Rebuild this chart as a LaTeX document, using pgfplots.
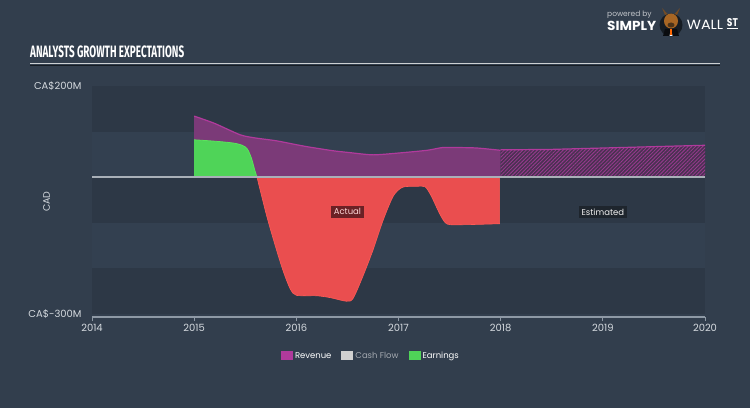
\documentclass[border=0pt]{standalone}
\usepackage{fontspec}
\setmainfont{Poppins}
\newfontfamily\titlefont{Fira Sans}
\usepackage{graphicx}
\usepackage{pgfplots}
\pgfplotsset{compat=1.18}
\usetikzlibrary{patterns.meta}
\definecolor{bg}{HTML}{323E4D}
\definecolor{bandlight}{HTML}{334050}
\definecolor{banddark}{HTML}{2D3846}
\definecolor{revfill}{HTML}{7B3A78}
\definecolor{revline}{HTML}{B03A9C}
\definecolor{revhatchbg}{HTML}{4A3152}
\definecolor{revhatch}{HTML}{9A3A90}
\definecolor{earnpos}{HTML}{4FD458}
\definecolor{earnposline}{HTML}{5AE35C}
\definecolor{earnneg}{HTML}{EA4E4F}
\definecolor{earnnegline}{HTML}{FF5A55}
\definecolor{zeroline}{HTML}{A9B0B8}
\definecolor{axisgray}{HTML}{8E99A5}
\definecolor{ticktext}{HTML}{D5DADF}
\definecolor{cashgray}{HTML}{D0D0D0}
\definecolor{actualbox}{HTML}{6B2125}
\definecolor{estbox}{HTML}{1E252D}
\begin{document}
\begin{tikzpicture}[x=1bp,y=1bp]
\fill[bg] (0,0) rectangle (750,408);
% title
\node[anchor=south west, inner sep=0, text=white] at (30,408-58.3)
  {\resizebox{154bp}{11.7bp}{\titlefont\bfseries ANALYSTS GROWTH EXPECTATIONS}};
\draw[color=white!75!bg, line width=1.4bp] (30,408-63.4) -- (720,408-63.4);
\draw[color=black!55!bg, line width=1bp] (30,408-65.2) -- (720,408-65.2);
% logo
\node[anchor=base west, inner sep=0, text=white!70!bg] at (607,408-16.8)
  {\resizebox{44.5bp}{!}{\fontsize{7}{7}\selectfont powered by}};
\node[anchor=base west, inner sep=0, text=white] at (607,408-30)
  {\resizebox{49bp}{9.3bp}{\bfseries SIMPLY}};
\fill[black!55!bg] (671,408-25) circle (11.5bp);
\fill[black!80!bg] (663,408-36) -- (665,408-29) -- (677,408-29) -- (679,408-36) -- cycle;
\fill[white] (669.5,408-36) -- (671,408-29) -- (672.5,408-36) -- cycle;
\fill[orange!80!red] (670.4,408-35) rectangle (671.6,408-29.5);
\fill[brown!70!orange!80!black] (671,408-21) ellipse (7bp and 7.5bp);
\fill[brown!40!black] (671,408-25) ellipse (3.5bp and 2.5bp);
\fill[brown!60!black] (665,408-15) -- (662,408-8) -- (667.5,408-14) -- cycle;
\fill[brown!60!black] (677,408-15) -- (680,408-8) -- (674.5,408-14) -- cycle;
\node[anchor=base west, inner sep=0, text=white] at (686.7,408-30)
  {\resizebox{36.3bp}{9.3bp}{WALL}};
\node[anchor=base west, inner sep=0, text=white] at (726.7,408-26)
  {\resizebox{11bp}{8bp}{\bfseries ST}};
\draw[white, line width=0.9bp] (726.7,408-28.6) -- (737.7,408-28.6);

\begin{axis}[
  at={(92bp,94bp)}, anchor=south west,
  scale only axis, width=613bp, height=228bp,
  xmin=2014, xmax=2020, ymin=-300, ymax=200,
  axis x line*=bottom, axis y line*=left,
  y axis line style={draw=none},
  x axis line style={draw=axisgray, line width=1.2bp, yshift=-3bp},
  xtick={2014,2015,2016,2017,2018,2019,2020},
  xticklabels={2014,2015,2016,2017,2018,2019,2020},
  xtick align=outside, major tick length=4bp,
  xtick style={draw=axisgray, line width=0.8bp, yshift=-3bp},
  xticklabel style={yshift=-3bp},
  ytick={-300,200},
  yticklabels={CA\$-300M,CA\$200M},
  ytick style={draw=none},
  yticklabel style={anchor=east, xshift=-7bp},
  ticklabel style={font=\fontsize{10}{12}\selectfont, text=ticktext},
  /pgf/number format/assume math mode=true,
  ylabel={CAD},
  ylabel style={at={(axis description cs:-0.074,0.493)}, anchor=center,
    font=\fontsize{9.5}{11}\selectfont, text=ticktext},
  legend columns=3,
  legend style={at={(0.455,-0.186)}, anchor=center, draw=none, fill=none,
    font=\fontsize{8.5}{10}\selectfont, text=white,
    /tikz/every even column/.append style={column sep=8bp}},
  legend image code/.code={\path[#1] (0bp,-3.8bp) rectangle (12bp,5.2bp);},
  clip=false,
]
% bands
\fill[bandlight] (axis cs:2014,-300) rectangle (axis cs:2020,200);
\fill[banddark] (axis cs:2014,100) rectangle (axis cs:2020,200);
\fill[banddark] (axis cs:2014,-100) rectangle (axis cs:2020,0);
\fill[banddark] (axis cs:2014,-300) rectangle (axis cs:2020,-200);

% revenue actual
\addplot[forget plot, draw=none, fill=revfill, smooth, tension=0.4] coordinates {
 (2015,134) (2015.2,118) (2015.45,93) (2015.6,86) (2015.8,80) (2016.03,70)
 (2016.13,66) (2016.36,58) (2016.52,54) (2016.75,49) (2017.0,53) (2017.28,59)
 (2017.43,65) (2017.6,65) (2017.77,64) (2018,59)} \closedcycle;
\addplot[forget plot, draw=revline, line width=1.2bp, smooth, tension=0.4] coordinates {
 (2015,134) (2015.2,118) (2015.45,93) (2015.6,86) (2015.8,80) (2016.03,70)
 (2016.13,66) (2016.36,58) (2016.52,54) (2016.75,49) (2017.0,53) (2017.28,59)
 (2017.43,65) (2017.6,65) (2017.77,64) (2018,59)};
% revenue estimated
\addplot[forget plot, draw=none, fill=revhatchbg] coordinates {
 (2018,60) (2018.5,61) (2019,64) (2019.5,67) (2020,70)} \closedcycle;
\addplot[forget plot, draw=none, pattern={Lines[angle=45,distance=2.6bp,line width=0.8bp]},
  pattern color=revhatch] coordinates {
 (2018,60) (2018.5,61) (2019,64) (2019.5,67) (2020,70)} \closedcycle;
\addplot[forget plot, draw=revline, line width=1.2bp] coordinates {
 (2018,60) (2018.5,61) (2019,64) (2019.5,67) (2020,70)};

% earnings positive
\addplot[forget plot, draw=none, fill=earnpos, smooth, tension=0.5] coordinates {
 (2015,82) (2015.2,79) (2015.38,75) (2015.47,70) (2015.52,62) (2015.56,42)
 (2015.59,18) (2015.615,0)} \closedcycle;
\addplot[forget plot, draw=earnposline, line width=0.8bp, smooth, tension=0.5] coordinates {
 (2015,82) (2015.2,79) (2015.38,75) (2015.47,70) (2015.52,62) (2015.56,42)
 (2015.59,18) (2015.615,0)};
% earnings negative
\addplot[forget plot, draw=earnnegline, line width=0.6bp, fill=earnneg, smooth, tension=0.45] coordinates {
 (2015.615,0) (2015.71,-85) (2015.8,-155) (2015.87,-205) (2015.94,-245) (2016.0,-259)
 (2016.2,-260) (2016.33,-264) (2016.49,-272) (2016.555,-266) (2016.65,-218)
 (2016.75,-160) (2016.85,-94) (2016.95,-41) (2017.04,-22) (2017.18,-20)
 (2017.26,-21) (2017.32,-41) (2017.41,-83) (2017.48,-103) (2017.67,-104)
 (2017.99,-102)} \closedcycle;

% zero line
\draw[zeroline, line width=1.6bp] (axis cs:2014,0) -- (axis cs:2020,0);

% labels
\node[fill=actualbox, text=white!85!red, inner xsep=2.5bp, inner ysep=3bp,
  font=\fontsize{8.5}{10}\selectfont] at (axis cs:2016.5,-76) {Actual};
\node[fill=estbox, text=white!90!gray, inner xsep=2.5bp, inner ysep=3bp,
  font=\fontsize{8.5}{10}\selectfont] at (axis cs:2019,-76) {Estimated};

% legend
\addlegendimage{fill=revline, draw=none}
\addlegendentry{Revenue}
\addlegendimage{fill=cashgray, draw=none}
\addlegendentry{\textcolor{white!55!bg}{Cash Flow}}
\addlegendimage{fill=earnpos, draw=none}
\addlegendentry{Earnings}
\end{axis}
\end{tikzpicture}
\end{document}
